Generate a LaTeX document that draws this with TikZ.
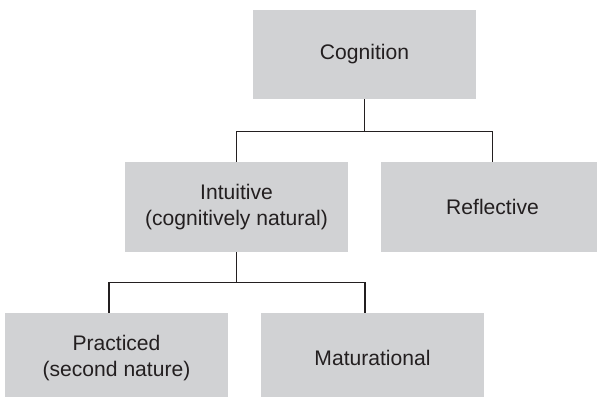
\documentclass[tikz,border=0pt]{standalone}
\usepackage{fontspec}
\setmainfont{Liberation Sans}
\usetikzlibrary{positioning}
\definecolor{boxgray}{RGB}{209,210,212}
\definecolor{inkgray}{RGB}{35,31,32}
\tikzset{
  catbox/.style={fill=boxgray, text=inkgray, align=center,
    minimum width=4.46cm, minimum height=1.8cm, inner sep=0pt,
    font=\fontsize{12}{14.8}\selectfont},
  link/.style={draw=inkgray, line width=0.75pt}
}

\begin{document}
\begin{tikzpicture}[x=0.02cm,y=-0.02cm]
    \clip (0,0) rectangle (597,396);
    \node[catbox, minimum height=1.78cm] (cog) at (364.5,54.5) {Cognition};
    \node[catbox] (int) at (236.5,207) {Intuitive\\(cognitively natural)};
    \node[catbox] (ref) at (492.5,207) {Reflective};
    \node[catbox] (prac) at (116.5,358) {Practiced\\(second nature)};
    \node[catbox] (mat) at (372.5,358) {Maturational};
    % upper fork
    \draw[link] (cog.south) -- ++(0,32) coordinate (j1);
    \draw[link] (int.north) |- (j1) -| (ref.north);
    % lower fork
    \draw[link] (int.south) -- ++(0,30) coordinate (j2);
    \draw[link] ([xshift=-0.15cm]prac.north) |- (j2) -| ([xshift=-0.15cm]mat.north);
\end{tikzpicture}
\end{document}
